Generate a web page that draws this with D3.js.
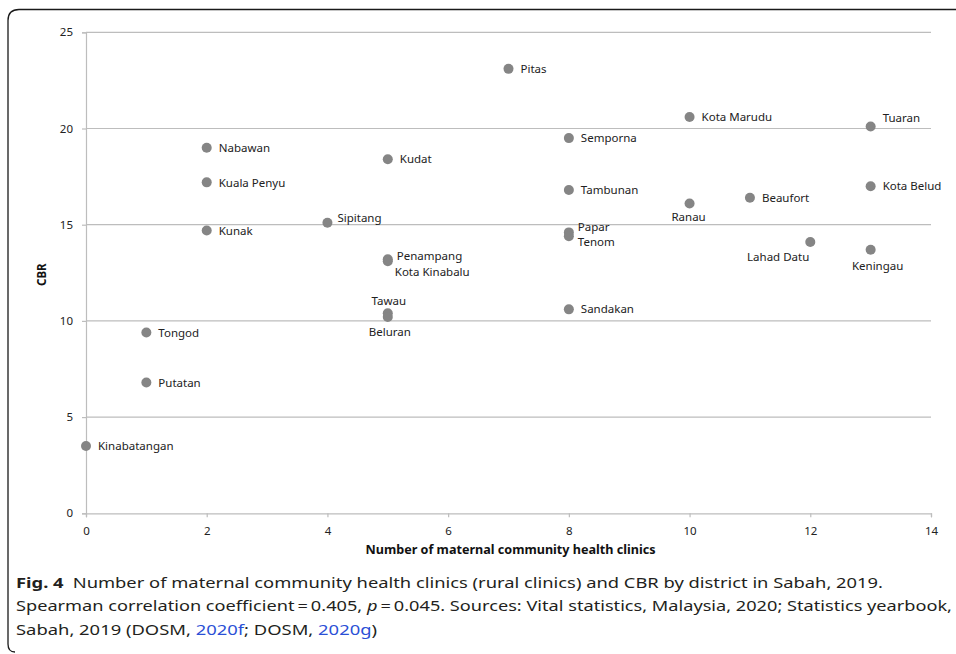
<!DOCTYPE html>
<html>
<head>
<meta charset="utf-8">
<script src="https://cdn.jsdelivr.net/npm/d3@7"></script>
<style>
  body { margin: 0; background: #fff; }
  svg { display: block; }
</style>
</head>
<body>
<svg id="chart"></svg>
<script>
// data
var districts = ["Kinabatangan", "Putatan", "Tongod", "Kunak", "Kuala Penyu", "Nabawan",
  "Sipitang", "Penampang", "Kota Kinabalu", "Tawau", "Beluran", "Kudat", "Pitas",
  "Semporna", "Tambunan", "Papar", "Tenom", "Sandakan", "Kota Marudu", "Ranau",
  "Beaufort", "Lahad Datu", "Tuaran", "Kota Belud", "Keningau"];
var clinics = [0, 1, 1, 2, 2, 2, 4, 5, 5, 5, 5, 5, 7, 8, 8, 8, 8, 8, 10, 10, 11, 12, 13, 13, 13];
var cbr = [3.5, 6.8, 9.4, 14.7, 17.2, 19.0, 15.1, 13.2, 13.1, 10.4, 10.2, 18.4, 23.1,
  19.5, 16.8, 14.6, 14.4, 10.6, 20.6, 16.1, 16.4, 14.1, 20.1, 17.0, 13.7];
var xTicks = [0, 2, 4, 6, 8, 10, 12, 14];
var yTicks = [0, 5, 10, 15, 20, 25];

var xTitle = "Number of maternal community health clinics";
var yTitle = "CBR";

// label placement (offset from the point, anchor)
var labelPos = {
  "Sipitang": { dx: 10, dy: -5, anchor: "start" },
  "Tuaran": { dx: 12, dy: -9, anchor: "start" },
  "Papar": { dx: 9, dy: -5.5, anchor: "start" },
  "Tenom": { dx: 9, dy: 5.5, anchor: "start" },
  "Penampang": { dx: 9, dy: -3, anchor: "start" },
  "Kota Kinabalu": { dx: 7, dy: 11, anchor: "start" },
  "Tawau": { dx: 1, dy: -12, anchor: "middle" },
  "Beluran": { dx: 2, dy: 15, anchor: "middle" },
  "Ranau": { dx: -1, dy: 13, anchor: "middle" },
  "Lahad Datu": { dx: -1, dy: 15, anchor: "end" },
  "Keningau": { dx: 7, dy: 16, anchor: "middle" }
};

var W = 956, H = 654;
var margin = { top: 32.3, left: 86, right: 25, bottom: 140.7 };
var width = W - margin.left - margin.right,
  height = H - margin.top - margin.bottom;

var svg = d3.select("#chart").attr("width", W).attr("height", H);

// figure frame, open on the right and bottom
svg.append("path")
  .attr("d", "M 960,9.5 H 19 Q 8,9.5 8,20.5 V 644 Q 8,652 15,652")
  .attr("fill", "none")
  .attr("stroke", "#1a1a1a")
  .attr("stroke-width", 1.3);

var g = svg.append("g")
  .attr("transform", "translate(" + margin.left + "," + margin.top + ")");

var x = d3.scaleLinear().domain([0, 14]).range([0, width]);
var y = d3.scaleLinear().domain([0, 25]).range([height, 0]);

// horizontal grid
g.append("g")
  .selectAll("line")
  .data(yTicks.filter(function (d) { return d > 0; }))
  .enter().append("line")
  .attr("x1", 0).attr("x2", width)
  .attr("y1", function (d) { return y(d); })
  .attr("y2", function (d) { return y(d); })
  .attr("stroke", "#bdbdbd")
  .attr("stroke-width", 1.2);

// axes
var yAxis = g.append("g")
  .call(d3.axisLeft(y).tickValues(yTicks).tickSize(4).tickPadding(9));
var xAxis = g.append("g")
  .attr("transform", "translate(0," + height + ")")
  .call(d3.axisBottom(x).tickValues(xTicks).tickSize(4).tickPadding(10));

[xAxis, yAxis].forEach(function (a) {
  a.select(".domain").attr("stroke", "#bdbdbd").attr("stroke-width", 1.2);
  a.selectAll(".tick line").attr("stroke", "#bdbdbd").attr("stroke-width", 1.2);
  a.selectAll(".tick text")
    .attr("fill", "#222")
    .style("font-family", "'Noto Sans', sans-serif")
    .style("font-size", "11.5px");
});

// axis titles
g.append("text")
  .attr("x", x(7) + 2)
  .attr("y", height + 41)
  .attr("text-anchor", "middle")
  .attr("textLength", 290)
  .attr("lengthAdjust", "spacingAndGlyphs")
  .style("font-family", "'Noto Sans', sans-serif")
  .style("font-size", "12px")
  .style("font-weight", "bold")
  .attr("fill", "#111")
  .text(xTitle);

g.append("text")
  .attr("transform", "translate(" + (-40) + "," + (y(12.4)) + ") rotate(-90)")
  .attr("text-anchor", "middle")
  .style("font-family", "'Noto Sans', sans-serif")
  .style("font-size", "11.5px")
  .style("font-weight", "bold")
  .attr("fill", "#111")
  .text(yTitle);

// points
var idx = d3.range(districts.length);
g.append("g")
  .selectAll("circle")
  .data(idx)
  .enter().append("circle")
  .attr("cx", function (i) { return x(clinics[i]); })
  .attr("cy", function (i) { return y(cbr[i]); })
  .attr("r", 5)
  .attr("fill", "#858585");

// point labels
g.append("g")
  .selectAll("text")
  .data(idx)
  .enter().append("text")
  .attr("x", function (i) {
    var p = labelPos[districts[i]];
    return x(clinics[i]) + (p ? p.dx : 12);
  })
  .attr("y", function (i) {
    var p = labelPos[districts[i]];
    return y(cbr[i]) + (p ? p.dy : 0);
  })
  .attr("dy", "0.36em")
  .attr("text-anchor", function (i) {
    var p = labelPos[districts[i]];
    return p ? p.anchor : "start";
  })
  .style("font-family", "'Noto Sans', sans-serif")
  .style("font-size", "11.5px")
  .attr("fill", "#222")
  .text(function (i) { return districts[i]; });

// caption
var cap = svg.append("g")
  .style("font-family", "'Noto Sans', sans-serif")
  .style("font-size", "15px")
  .attr("fill", "#231f20");

var l1 = cap.append("text").attr("x", 16).attr("y", 588)
  .attr("textLength", 867).attr("lengthAdjust", "spacingAndGlyphs");
l1.append("tspan").style("font-weight", "bold").text("Fig. 4");
l1.append("tspan").text("\u2002Number of maternal community health clinics (rural clinics) and CBR by district in Sabah, 2019.");

var l2 = cap.append("text").attr("x", 16).attr("y", 611)
  .attr("textLength", 936).attr("lengthAdjust", "spacingAndGlyphs");
l2.append("tspan").text("Spearman correlation coefficient\u2009=\u20090.405, ");
l2.append("tspan").style("font-style", "italic").text("p");
l2.append("tspan").text("\u2009=\u20090.045. Sources: Vital statistics, Malaysia, 2020; Statistics yearbook,");

var l3 = cap.append("text").attr("x", 16).attr("y", 635)
  .attr("textLength", 361).attr("lengthAdjust", "spacingAndGlyphs");
l3.append("tspan").text("Sabah, 2019 (DOSM, ");
l3.append("tspan").attr("fill", "#2b50d6").text("2020f");
l3.append("tspan").text("; DOSM, ");
l3.append("tspan").attr("fill", "#2b50d6").text("2020g");
l3.append("tspan").text(")");
</script>
</body>
</html>
